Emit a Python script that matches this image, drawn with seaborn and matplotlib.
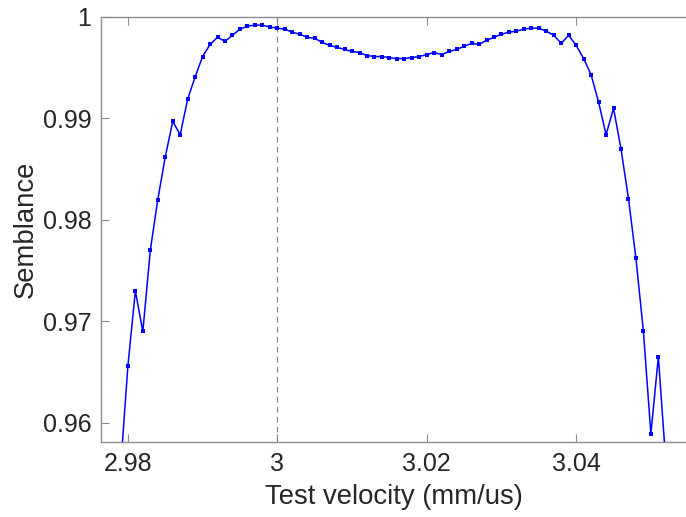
import numpy as np
import pandas as pd
import matplotlib
matplotlib.use("Agg")
import matplotlib.pyplot as plt
import seaborn as sns

# Test velocities (mm/us), sampled every 0.001
velocity = [round(2.979 + 0.001 * i, 3) for i in range(74)]

# Semblance at each test velocity
semblance = [
    0.9553, 0.9656, 0.9730, 0.9690, 0.9770, 0.9820, 0.9862, 0.9897, 0.9884, 0.9919,
    0.9941, 0.9961, 0.9973, 0.9980, 0.9976, 0.9982, 0.9988, 0.9991, 0.9992, 0.9992,
    0.9990, 0.9989, 0.9988, 0.9985, 0.9983, 0.9980, 0.9979, 0.9975, 0.9972, 0.9970,
    0.9968, 0.9966, 0.9965, 0.9962, 0.9961, 0.9961, 0.9960, 0.9959, 0.9959, 0.9960,
    0.9961, 0.9963, 0.9965, 0.9963, 0.9966, 0.9968, 0.9971, 0.9974, 0.9973, 0.9977,
    0.9980, 0.9983, 0.9985, 0.9986, 0.9988, 0.9989, 0.9989, 0.9986, 0.9982, 0.9974,
    0.9982, 0.9972, 0.9959, 0.9943, 0.9916, 0.9884, 0.9910, 0.9870, 0.9821, 0.9762,
    0.9690, 0.9589, 0.9665, 0.9561,
]

picked_velocity = 3.0
x_ticks = [2.98, 3.00, 3.02, 3.04]
x_tick_labels = ["2.98", "3", "3.02", "3.04"]
y_ticks = [0.96, 0.97, 0.98, 0.99, 1.00]
y_tick_labels = ["0.96", "0.97", "0.98", "0.99", "1"]

df = pd.DataFrame({"velocity": velocity, "semblance": semblance})

sns.set_theme(style="white")
plt.rcParams["font.family"] = ["Liberation Sans", "DejaVu Sans"]

fig = plt.figure(figsize=(6.86, 5.17), dpi=100)
ax = fig.add_axes([101 / 686, 75 / 517, 1 - 101 / 686, 425 / 517])

axis_gray = "#8c8c8c"
text_gray = "#262626"

ax.axvline(picked_velocity, color="#808080", linestyle=(0, (5, 4)), linewidth=0.8, zorder=1)

sns.lineplot(data=df, x="velocity", y="semblance", ax=ax, color="#0000ff",
             linewidth=1.1, marker="s", markersize=2.2, markeredgewidth=0,
             markerfacecolor="#0000ff", zorder=3)

ax.set_xlim(2.9764, 3.0547)
ax.set_ylim(0.9581, 1.0)

ax.set_xticks(x_ticks)
ax.set_xticklabels(x_tick_labels)
ax.set_yticks(y_ticks)
ax.set_yticklabels(y_tick_labels)

ax.tick_params(axis="both", direction="in", length=6, width=0.8, color=axis_gray,
               labelsize=18, labelcolor=text_gray, pad=7,
               top=True, bottom=True, left=True, right=False)

for side in ("left", "bottom", "top"):
    ax.spines[side].set_visible(True)
    ax.spines[side].set_color(axis_gray)
    ax.spines[side].set_linewidth(1.0)
ax.spines["right"].set_visible(False)

ax.set_xlabel("Test velocity (mm/us)", fontsize=19.8, color=text_gray, labelpad=6)
ax.set_ylabel("Semblance", fontsize=19.8, color=text_gray, labelpad=3)

fig.savefig("out.png", dpi=100)
